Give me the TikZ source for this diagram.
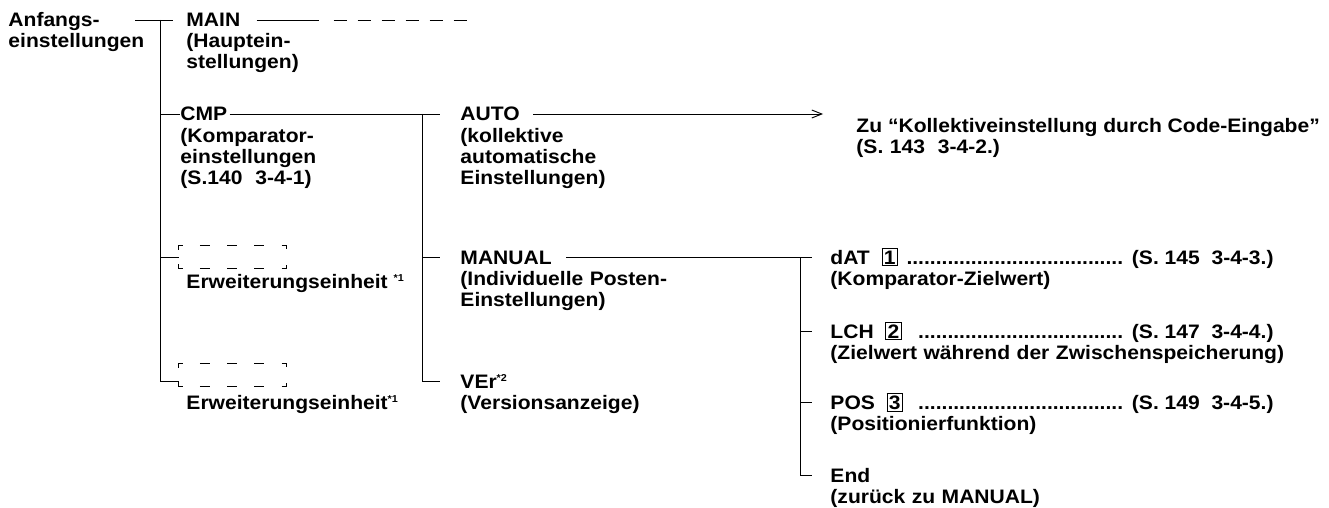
\documentclass[tikz,border=0pt]{standalone}
\usepackage{fontspec}
\setmainfont{Liberation Sans}[FakeStretch=1.08]
\usetikzlibrary{arrows.meta}

\newcommand\numbox[1]{{\setlength\fboxsep{1.4pt}\setlength\fboxrule{0.9pt}\fbox{#1}}}
\newcommand\fnmark[1]{\raisebox{7pt}{\fontsize{10}{10}\selectfont *#1}}
\newcommand\dotrow{\leaders\hbox{.}\hfill}

\begin{document}
\begin{tikzpicture}[x=1pt, y=-1pt, line width=0.9pt,
    font=\fontsize{19.5}{21}\selectfont\bfseries,
    ttl/.style={anchor=base west, inner sep=0pt},
    desc/.style={anchor=base west, inner sep=0pt, text width=600pt, align=left},
    ebox/.style={minimum width=107pt, minimum height=22pt, inner sep=0pt},
    extdash/.style={dash pattern=on 8pt off 17.25pt on 10pt off 17.25pt on 10pt off 17.25pt on 10pt off 17.25pt on 8pt off 20pt}]
    \useasboundingbox (0,0) rectangle (1329,508);

    % first level
    \node[desc, text width=150pt] (anf) at (8,27) {Anfangs-\\einstellungen};
    \node[ttl] (main) at (186,27) {MAIN};
    \node[desc] (mainD) at ([yshift=-21pt]main.base west) {(Hauptein-\\stellungen)};
    \node[ttl] (cmp) at (180,121) {CMP};
    \node[desc] (cmpD) at ([yshift=-21pt]cmp.base west) {(Komparator-\\einstellungen\\(S.140\ \ 3-4-1)};
    \node[ebox] (box1) at (232.5,257) {};
    \node[ttl] (ext1) at (186,288) {Erweiterungseinheit \fnmark{1}};
    \node[ebox] (box2) at (232.5,375) {};
    \node[ttl] (ext2) at (186,409) {Erweiterungseinheit\fnmark{1}};

    % CMP level
    \node[ttl] (auto) at (460,121) {AUTO};
    \node[desc] (autoD) at ([yshift=-21pt]auto.base west) {(kollektive\\automatische\\Einstellungen)};
    \node[ttl] (zu) at (856,132) {Zu “Kollektiveinstellung durch Code-Eingabe”};
    \node[desc] (zuD) at ([yshift=-21pt]zu.base west) {(S. 143\ \ 3-4-2.)};
    \node[ttl] (manual) at (460,264) {MANUAL};
    \node[desc] (manualD) at ([yshift=-21pt]manual.base west) {(Individuelle Posten-\\Einstellungen)};
    \node[ttl] (ver) at (460,388) {VEr\fnmark{2}};
    \node[desc] (verD) at ([yshift=-21pt]ver.base west) {(Versionsanzeige)};

    % MANUAL level
    \node[ttl] (dat) at (830,264) {\hbox to 443pt{dAT\ \ \numbox{1}\ \dotrow\ (S. 145\ \ 3-4-3.)}};
    \node[desc] (datD) at ([yshift=-21pt]dat.base west) {(Komparator-Zielwert)};
    \node[ttl] (lch) at (830,338) {\hbox to 443pt{LCH\ \ \numbox{2}\ \ \dotrow\ (S. 147\ \ 3-4-4.)}};
    \node[desc, text width=480pt] (lchD) at ([yshift=-21pt]lch.base west) {(Zielwert während der Zwischenspeicherung)};
    \node[ttl] (pos) at (830,409) {\hbox to 443pt{POS\ \ \numbox{3}\ \ \dotrow\ (S. 149\ \ 3-4-5.)}};
    \node[desc] (posD) at ([yshift=-21pt]pos.base west) {(Positionierfunktion)};
    \node[ttl] (end) at (830,482) {End};
    \node[desc] (endD) at ([yshift=-21pt]end.base west) {(zurück zu MANUAL)};

    % dashed boxes
    \foreach \b in {box1,box2} {
        \draw[extdash] ([yshift=4pt]\b.south west) -- (\b.south west) -- (\b.south east) -- ([yshift=4pt]\b.south east);
        \draw[extdash] ([yshift=-4pt]\b.north west) -- (\b.north west) -- (\b.north east) -- ([yshift=-4pt]\b.north east);
    }

    % junctions and line ends
    \coordinate (t1) at ([xshift=-26pt,yshift=7pt]main.base west);
    \coordinate (t2) at ([xshift=-38pt,yshift=7pt]auto.base west);
    \coordinate (t3) at ([xshift=-30pt,yshift=7pt]dat.base west);
    \path ([xshift=-13pt,yshift=7pt]main.base west) coordinate (mainW)
          ([xshift=16pt,yshift=7pt]main.base east) coordinate (mainE)
          ([yshift=7pt]cmp.base west) coordinate (cmpW)
          ([xshift=2pt,yshift=7pt]cmp.base east) coordinate (cmpE)
          ([xshift=-20pt,yshift=7pt]auto.base west) coordinate (autoW)
          ([xshift=13pt,yshift=7pt]auto.base east) coordinate (autoE)
          ([xshift=-33pt,yshift=18pt]zu.base west) coordinate (zuW)
          ([xshift=-20pt,yshift=7pt]manual.base west) coordinate (manualW)
          ([xshift=14pt,yshift=7pt]manual.base east) coordinate (manualE)
          ([xshift=-20pt,yshift=7pt]ver.base west) coordinate (verW)
          ([xshift=-18pt,yshift=7pt]dat.base west) coordinate (datW)
          ([xshift=-18pt,yshift=7pt]lch.base west) coordinate (lchW)
          ([xshift=-18pt,yshift=7pt]pos.base west) coordinate (posW)
          ([xshift=-18pt,yshift=7pt]end.base west) coordinate (endW);

    % tree lines
    \draw ([xshift=-25pt]t1) -- (mainW);
    \draw (mainE) -- ++(62,0) coordinate (mainT);
    \draw[dash pattern=on 13pt off 11pt] ([xshift=15pt]mainT) -- ++(133,0);
    \draw (t1) |- ([yshift=5pt]box2.south west);
    \draw (t1 |- box1.west) -- (box1.west);
    \draw (t1 |- cmpW) -- (cmpW);
    \draw (cmpE) -- (autoW);
    \draw (t2) |- (verW);
    \draw (t2 |- manualW) -- (manualW);
    \draw[-{Straight Barb[length=10pt,width=8pt]}] (autoE) -- (zuW);
    \draw (manualE) -- (datW);
    \draw (t3) |- (endW);
    \draw (t3 |- lchW) -- (lchW);
    \draw (t3 |- posW) -- (posW);
\end{tikzpicture}
\end{document}
